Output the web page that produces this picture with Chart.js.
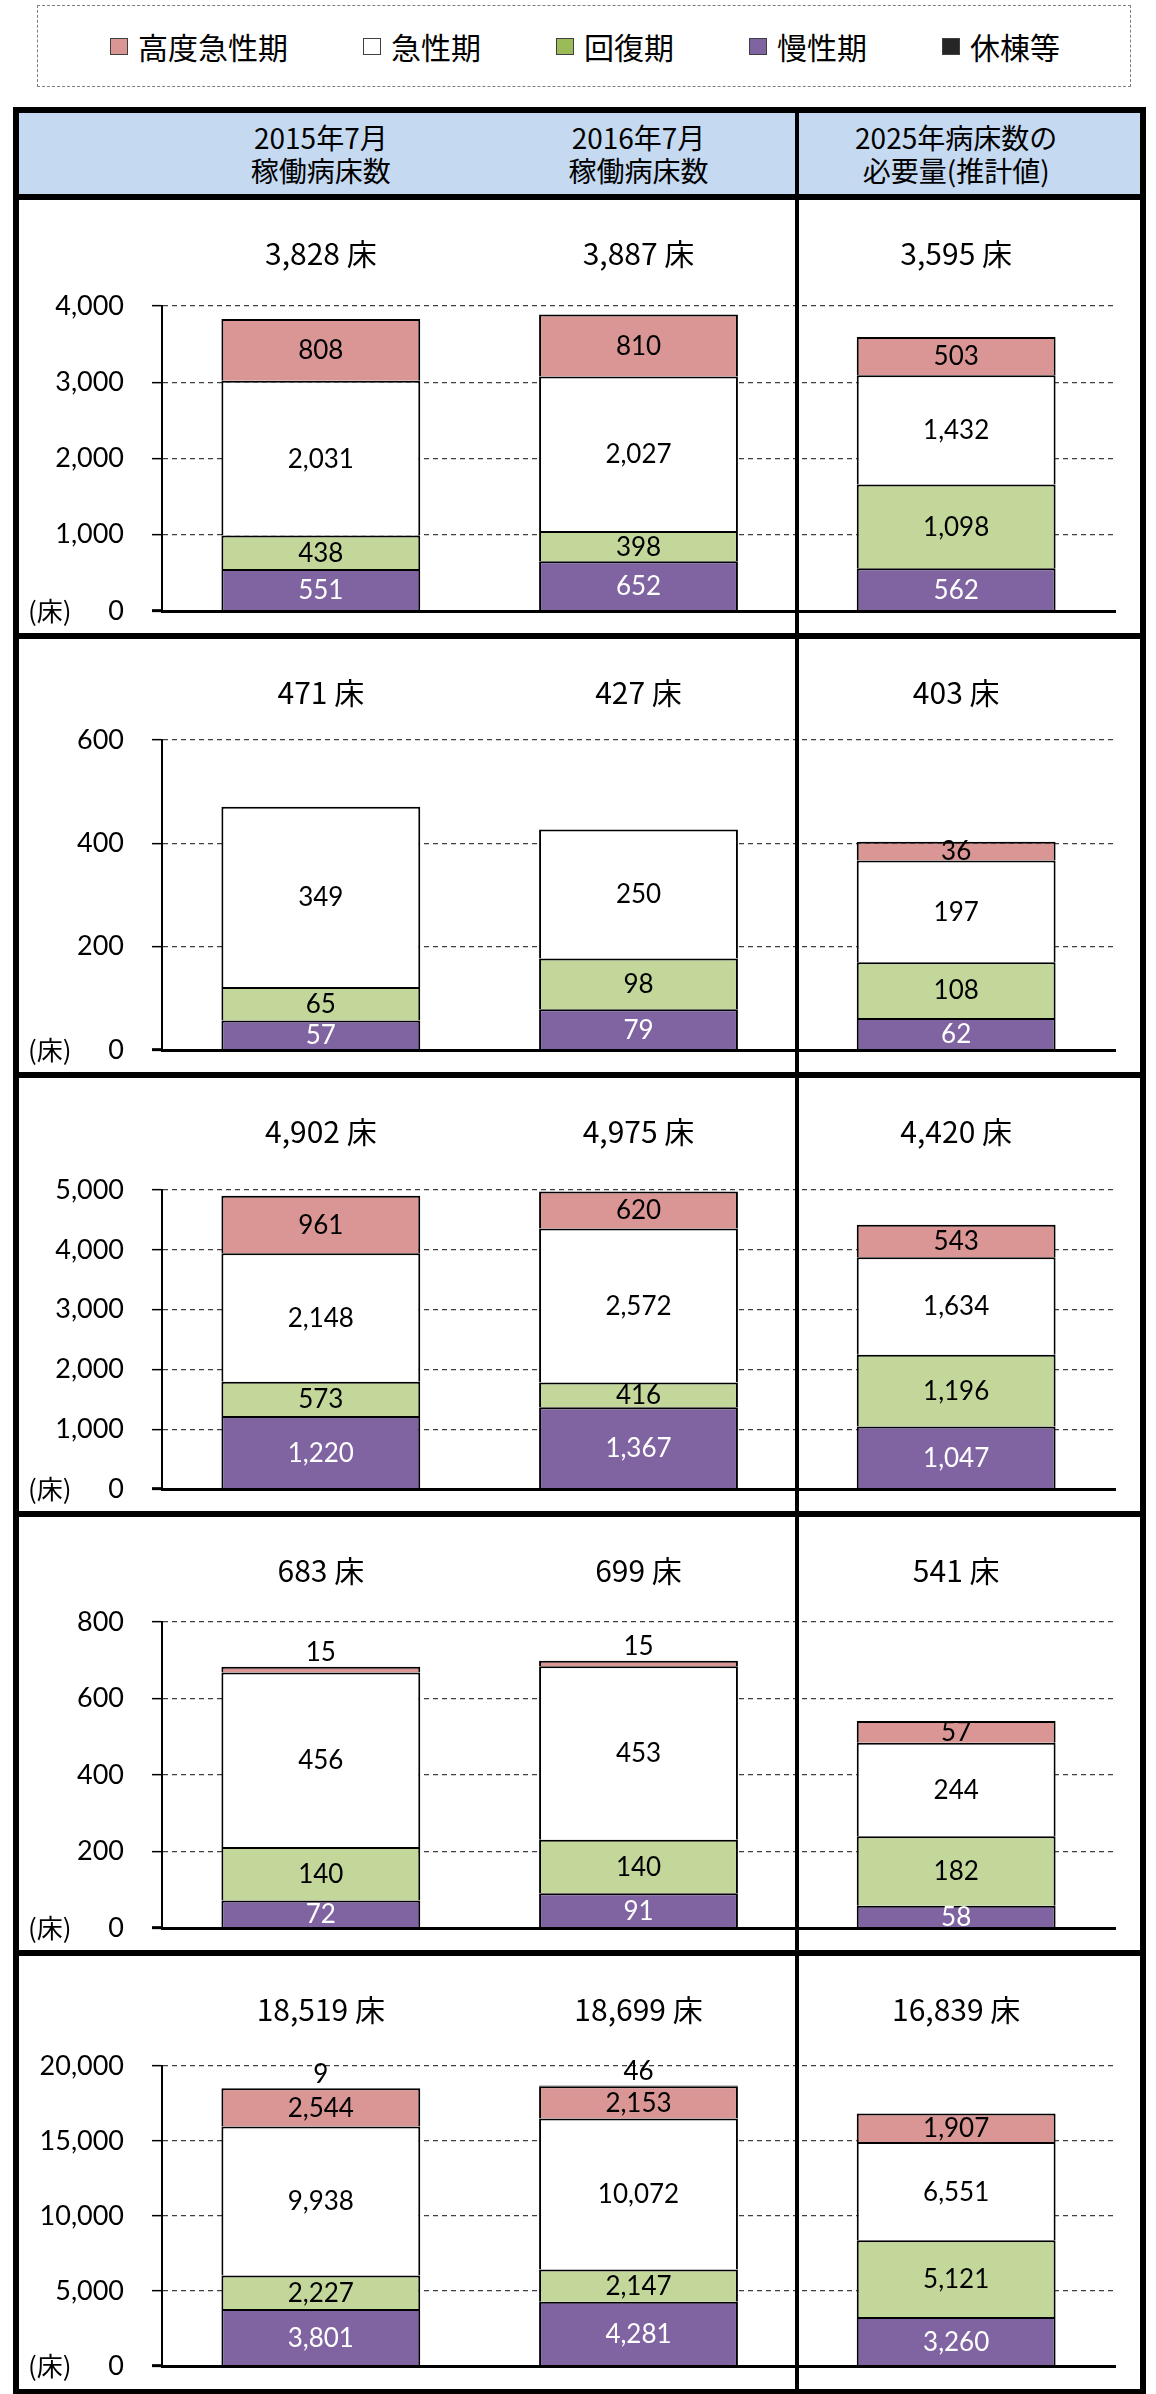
<!DOCTYPE html>
<html lang="ja">
<head>
<meta charset="utf-8">
<title>病床数</title>
<script src="https://cdn.jsdelivr.net/npm/chart.js@4.4.1/dist/chart.umd.min.js"></script>
<style>
  html, body { margin: 0; padding: 0; background: #fff; }
  body { width: 1156px; height: 2394px; position: relative; overflow: hidden;
         font-family: "Noto Sans CJK JP", "Noto Sans", sans-serif; color: #000; }
  .legend { position: absolute; left: 37px; top: 5px; width: 1094px; height: 82px; box-sizing: border-box;
            border: 1.5px dashed #7f7f7f; display: flex; align-items: center; padding-left: 72px; gap: 75px;
            font-size: 30px; line-height: 1; }
  .legend-item { display: flex; align-items: center; }
  .legend-box { width: 16px; height: 15px; border: 1px solid #404040; margin-right: 10px; }
  .table { position: absolute; left: 13px; top: 107px; width: 1133px; height: 2288px;
           box-sizing: border-box; border: 6px solid #000; }
  .header { height: 81px; background: #c5d9f1; border-bottom: 6px solid #000; position: relative; }
  .header .col { position: absolute; top: 0; height: 81px; width: 300px; margin-left: -150px;
                 display: flex; flex-direction: column; justify-content: center; align-items: center;
                 font-size: 28px; line-height: 33px; white-space: nowrap; }
  .panel { height: 433px; border-bottom: 6px solid #000; }
  .panel:last-child { border-bottom: none; }
  .panel canvas { display: block; }
  .divider { position: absolute; left: 776px; top: 0; bottom: 0; width: 4px; background: #000; z-index: 5; }
</style>
</head>
<body>

<div class="legend" id="legend"></div>

<div class="table" id="table">
  <div class="header" id="header"></div>
  <div class="panel"><canvas id="panel0" width="1121" height="433"></canvas></div>
  <div class="panel"><canvas id="panel1" width="1121" height="433"></canvas></div>
  <div class="panel"><canvas id="panel2" width="1121" height="433"></canvas></div>
  <div class="panel"><canvas id="panel3" width="1121" height="433"></canvas></div>
  <div class="panel"><canvas id="panel4" width="1121" height="432"></canvas></div>
  <div class="divider"></div>
</div>

<script>
// |------------|
// |   Données  |
// |------------|

const categories = ['2015年7月稼働病床数', '2016年7月稼働病床数', '2025年病床数の必要量(推計値)']
const headerLines = [['2015年7月', '稼働病床数'], ['2016年7月', '稼働病床数'], ['2025年病床数の', '必要量(推計値)']]
const seriesNames = ['高度急性期', '急性期', '回復期', '慢性期', '休棟等']

// une ligne par panneau, une valeur par colonne
const highAcute = [[808, 810, 503], [0, 0, 36], [961, 620, 543], [15, 15, 57], [2544, 2153, 1907]]
const acute = [[2031, 2027, 1432], [349, 250, 197], [2148, 2572, 1634], [456, 453, 244], [9938, 10072, 6551]]
const recovery = [[438, 398, 1098], [65, 98, 108], [573, 416, 1196], [140, 140, 182], [2227, 2147, 5121]]
const chronic = [[551, 652, 562], [57, 79, 62], [1220, 1367, 1047], [72, 91, 58], [3801, 4281, 3260]]
const idle = [[0, 0, 0], [0, 0, 0], [0, 0, 0], [0, 0, 0], [9, 46, 0]]
const totals = [[3828, 3887, 3595], [471, 427, 403], [4902, 4975, 4420], [683, 699, 541], [18519, 18699, 16839]]

const axisMax = [4000, 600, 5000, 800, 20000]
const axisStep = [1000, 200, 1000, 200, 5000]

// |-----------|
// |   Style   |
// |-----------|

const legendColors = ['#da9694', '#ffffff', '#9bbb59', '#8064a2', '#262626']
const barColors = { high: '#da9694', acute: '#ffffff', recovery: '#c4d79b', chronic: '#8064a2', idle: '#262626' }
const panelPadTop = [106, 101, 112, 105, 110]

Chart.defaults.font.family = 'Lato, "Noto Sans", sans-serif'
Chart.defaults.color = '#000'

const fmt = v => v.toLocaleString('en-US')

// Légende
const legend = document.getElementById('legend')
seriesNames.forEach((name, i) => {
	legend.innerHTML += `<div class="legend-item"><div class="legend-box" style="background:${legendColors[i]}"></div>${name}</div>`
})

// Étiquettes des segments, totaux et unité
const labelPlugin = {
	id: 'segmentLabels',
	afterDatasetsDraw(chart, args, opts) {
		const ctx = chart.ctx
		ctx.save()
		ctx.textAlign = 'center'
		ctx.textBaseline = 'middle'
		ctx.font = '26px Lato, "Noto Sans", sans-serif'
		chart.data.datasets.forEach((ds, di) => {
			const meta = chart.getDatasetMeta(di)
			meta.data.forEach((bar, i) => {
				const v = ds.data[i]
				if (!v) return
				const h = Math.abs(bar.base - bar.y)
				ctx.fillStyle = ds.labelColor
				if (h >= 12) {
					ctx.fillText(fmt(v), bar.x, (bar.y + bar.base) / 2 + 1)
				} else {
					ctx.fillText(fmt(v), bar.x, bar.y - 14)
				}
			})
		})

		ctx.fillStyle = '#000'
		ctx.font = '30px "Noto Sans CJK JP", sans-serif'
		const xs = chart.scales.x
		opts.totals.forEach((t, i) => {
			ctx.fillText(fmt(t) + ' 床', xs.getPixelForValue(i), 54)
		})

		ctx.textAlign = 'left'
		ctx.font = '26px "Noto Sans CJK JP", sans-serif'
		ctx.fillText('(床)', 9, chart.chartArea.bottom)
		ctx.restore()
	}
}

const charts = []
for (let p = 0; p < 5; p++) {
	const datasets = [
		{ label: seriesNames[3], data: chronic[p], backgroundColor: barColors.chronic, labelColor: '#fff' },
		{ label: seriesNames[2], data: recovery[p], backgroundColor: barColors.recovery, labelColor: '#000' },
		{ label: seriesNames[1], data: acute[p], backgroundColor: barColors.acute, labelColor: '#000' },
		{ label: seriesNames[0], data: highAcute[p], backgroundColor: barColors.high, labelColor: '#000' },
		{ label: seriesNames[4], data: idle[p], backgroundColor: barColors.idle, labelColor: '#000' }
	]
	datasets.forEach(d => {
		d.borderColor = '#000'
		d.borderWidth = 2
		d.borderSkipped = 'bottom'
		d.barPercentage = 0.626
		d.categoryPercentage = 1
	})

	const chart = new Chart(document.getElementById('panel' + p), {
		type: 'bar',
		data: { labels: categories, datasets: datasets },
		plugins: [labelPlugin],
		options: {
			responsive: false,
			animation: false,
			events: [],
			layout: { padding: { top: panelPadTop[p], bottom: 22, left: 0, right: 25 } },
			plugins: {
				legend: { display: false },
				tooltip: { enabled: false },
				segmentLabels: { totals: totals[p] }
			},
			scales: {
				x: {
					stacked: true,
					grid: { display: false, drawTicks: false },
					ticks: { display: false },
					border: { display: true, color: '#000', width: 3, z: 1 },
					afterFit: s => { s.height = 0 }
				},
				y: {
					stacked: true,
					min: 0,
					max: axisMax[p],
					// largeur fixe, sans marge due au padding des étiquettes
					afterFit: s => {
						s.width = 143
						s.paddingTop = 0
						s.paddingBottom = 0
					},
					ticks: {
						stepSize: axisStep[p],
						padding: 28,
						color: '#000',
						font: { size: 27 },
						callback: v => fmt(v)
					},
					grid: {
						color: c => (c.tick && c.tick.value === 0) ? 'rgba(0,0,0,0)' : '#404040',
						lineWidth: 1.3,
						tickLength: 10,
						tickColor: '#000',
						tickWidth: c => (c.tick && c.tick.value === 0) ? 3 : 1.5,
						tickBorderDash: []
					},
					border: { display: true, color: '#000', width: 2, dash: [5, 4] }
				}
			}
		}
	})
	charts.push(chart)
}

// En-tête aligné sur les colonnes
const header = document.getElementById('header')
const xs = charts[0].scales.x
headerLines.forEach((lines, i) => {
	header.innerHTML += `<div class="col" style="left:${xs.getPixelForValue(i)}px"><div>${lines[0]}</div><div>${lines[1]}</div></div>`
})
</script>
</body>
</html>
